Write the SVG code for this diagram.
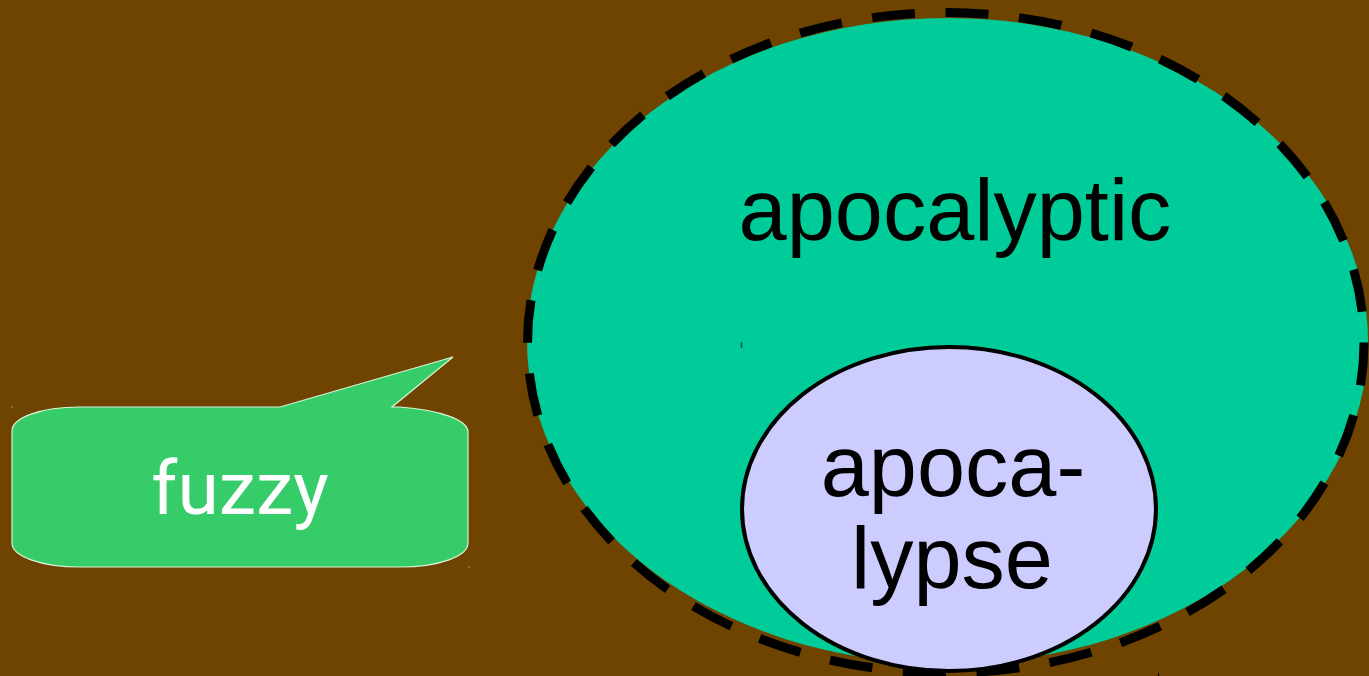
<svg xmlns="http://www.w3.org/2000/svg" width="1369" height="676" viewBox="0 0 1369 676">
<style>
.fillbig{fill:#00cc99}
.dash{fill:none;stroke:#000;stroke-width:9;stroke-dasharray:43 30.7}
.inner{fill:#ccccff;stroke:#000;stroke-width:4}
.lbl{font-family:"Liberation Sans",Arial,sans-serif;font-size:86.5px;fill:#000;text-anchor:middle}
.call{fill:#36cc6a;stroke:#d8f4d8;stroke-width:1.2}
.ctext{font-family:Roboto,"Open Sans",sans-serif;font-size:75px;fill:#fff;text-anchor:middle}
</style>
<rect width="1369" height="676" fill="#6f4400"/>
<g id="apocalyptic">
<ellipse class="fillbig" cx="947.5" cy="341" rx="420.5" ry="323"/>
<ellipse class="dash" cx="945.75" cy="342.7" rx="418.25" ry="330.2"/>
<text class="lbl" x="955" y="240">apocalyptic</text>
</g>
<g id="connectors">
<line x1="741.5" y1="342" x2="741.5" y2="348" stroke="#0a5a40" stroke-width="1.5"/>
<line x1="1158.5" y1="673" x2="1158.5" y2="676" stroke="#000" stroke-width="1"/>
</g>
<g id="apocalypse">
<ellipse class="inner" cx="949" cy="509" rx="207" ry="162"/>
<text class="lbl" x="953" y="496">apoca-</text>
<text class="lbl" x="952" y="588">lypse</text>
</g>
<g id="fuzzy">
<path class="call" d="M80,407 L280,407 L453,357 L392,407 L400,407 C440,410 468,420 468,432 L468,543 C468,556 440,567 400,567 L80,567 C40,567 12,556 12,543 L12,431 C12,418 40,407 80,407 Z"/>
<text class="ctext" x="240" y="514">fuzzy</text>
<rect x="11.5" y="406.5" width="1" height="1" fill="#e0e0e0"/>
<rect x="468.5" y="566.5" width="1" height="1" fill="#e0e0e0"/>
</g>
</svg>
